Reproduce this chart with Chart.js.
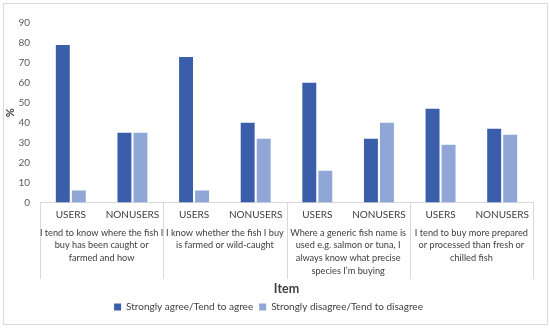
<!DOCTYPE html>
<html>
<head>
<meta charset="utf-8">
<script src="https://cdn.jsdelivr.net/npm/chart.js@4.4.1/dist/chart.umd.min.js"></script>
<style>
  html, body { margin: 0; padding: 0; background: #fff; }
  #wrap { position: relative; width: 550px; height: 328px; }
  #frame { position: absolute; left: 3px; top: 3px; width: 543px; height: 320px; border: 1px solid #d9d9d9; pointer-events: none; }
</style>
</head>
<body>
<div id="wrap">
  <canvas id="chart" width="550" height="328"></canvas>
  <div id="frame"></div>
</div>
<script>
// categories
const respondents = ['USERS', 'NONUSERS', 'USERS', 'NONUSERS', 'USERS', 'NONUSERS', 'USERS', 'NONUSERS'];
const items = [
    ['I tend to know where the fish I', 'buy has been caught or', 'farmed and how'],
    ['I know whether the fish I buy', 'is farmed or wild-caught'],
    ['Where a generic fish name is', 'used e.g. salmon or tuna, I', 'always know what precise', 'species I\u2019m buying'],
    ['I tend to buy more prepared', 'or processed than fresh or', 'chilled fish']
];
// series values (%)
const agree = [79, 35, 73, 40, 60, 32, 47, 37];
const disagree = [6, 35, 6, 32, 16, 40, 29, 34];
const yTicks = [0, 10, 20, 30, 40, 50, 60, 70, 80, 90];

const FONT = "Lato, 'Open Sans', sans-serif";
const TXT = '#404040';

// don't let the long item labels push the plot area inwards
const noSidePad = (s) => { s.paddingLeft = 0; s.paddingRight = 0; };

// group divider lines of the two-level category axis (drawn first so labels sit on top)
const groupLines = {
    id: 'groupLines',
    beforeDraw(chart) {
        const sx = chart.scales.x;
        const sx2 = chart.scales.x2;
        const ctx = chart.ctx;
        const step = sx2.width / items.length;
        const y1 = sx.top;
        const y2 = sx2.bottom - 17;
        ctx.save();
        ctx.strokeStyle = '#d9d9d9';
        ctx.lineWidth = 1;
        for (let i = 0; i <= items.length; i++) {
            const x = Math.round(sx2.left + step * i) + 0.5;
            ctx.beginPath();
            ctx.moveTo(x, y1);
            ctx.lineTo(x, y2);
            ctx.stroke();
        }
        ctx.restore();
    }
};

new Chart(document.getElementById('chart'), {
    type: 'bar',
    data: {
        labels: respondents,
        datasets: [
            { label: 'Strongly agree/Tend to agree', data: agree, backgroundColor: '#3b5eab' },
            { label: 'Strongly disagree/Tend to disagree', data: disagree, backgroundColor: '#8fa6d6' }
        ]
    },
    options: {
        responsive: false,
        animation: false,
        layout: { padding: { left: 4, right: 17, top: 23, bottom: 6 } },
        datasets: { bar: { categoryPercentage: 0.52, barPercentage: 0.87 } },
        plugins: {
            legend: {
                position: 'bottom',
                labels: { boxWidth: 7, boxHeight: 7, padding: 6, color: TXT, font: { family: FONT, size: 10 } }
            },
            tooltip: { enabled: false }
        },
        scales: {
            y: {
                min: 0, max: 90,
                afterBuildTicks: (s) => { s.ticks = yTicks.map(v => ({ value: v })); },
                afterFit: (s) => { s.width = 36; },
                grid: { display: false, drawTicks: false },
                border: { display: false },
                ticks: { color: '#595959', font: { family: FONT, size: 10 }, padding: 10 },
                title: { display: true, text: '%', color: TXT, font: { family: FONT, size: 11, weight: 'bold' }, padding: { top: 0, bottom: 2 } }
            },
            x: {
                afterFit: noSidePad,
                grid: { display: false, drawTicks: false },
                border: { display: true, color: '#d9d9d9' },
                ticks: { color: TXT, font: { family: FONT, size: 10 }, padding: 6, maxRotation: 0, autoSkip: false }
            },
            x2: {
                type: 'category',
                position: 'bottom',
                labels: items,
                offset: true,
                afterFit: noSidePad,
                grid: { display: false, drawTicks: false },
                border: { display: false },
                ticks: { color: TXT, font: { family: FONT, size: 9.2, lineHeight: 1.37 }, padding: 0, maxRotation: 0, autoSkip: false },
                title: { display: true, text: 'Item', color: TXT, font: { family: FONT, size: 12.5, weight: 'bold' }, padding: { top: 4, bottom: 0 } }
            }
        }
    },
    plugins: [groupLines]
});
</script>
</body>
</html>
